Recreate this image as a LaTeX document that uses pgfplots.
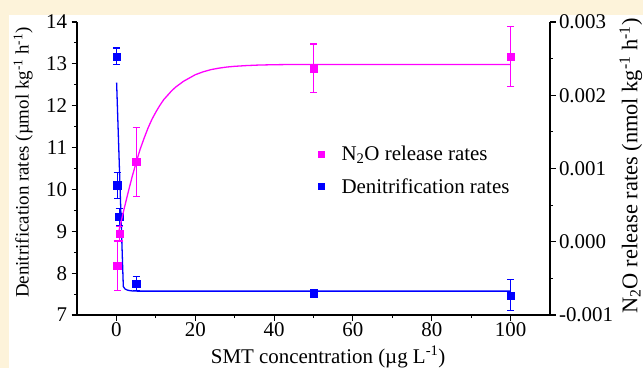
\documentclass[border=0pt]{standalone}
\usepackage{pgfplots}
\pgfplotsset{compat=1.18}
\usepackage{pgfplotstable}
\usepackage{fontspec}
\setmainfont{Liberation Serif}
\definecolor{bgyellow}{RGB}{253,243,218}
\definecolor{mymag}{RGB}{255,0,255}
\definecolor{myblue}{RGB}{0,0,255}

\pgfplotstableread{
x y e
0 13.18 0.20
0.2 10.10 0.31
0.7 9.34 0.20
5 7.75 0.17
50 7.52 0.07
100 7.47 0.37
}\denit

\pgfplotstableread{
x y e
0.2 -0.00033 0.00034
0.8 0.00011 0.00010
5 0.00109 0.00047
50 0.00237 0.00033
100 0.00253 0.00041
}\nitro

\pgfplotstableread{
x y
0.05 12.55
1.75 7.68
2.2 7.62
2.8 7.595
3.5 7.58
4.5 7.572
6 7.57
100 7.57
}\denitfit

\pgfplotstableread{
x y
0.5 0.00012
1 0.00023
2 0.00046
3 0.00068
4 0.00089
5 0.00108
6 0.00126
7 0.00141
8 0.00155
9 0.00167
10 0.00177
11 0.00186
12 0.00194
13 0.00200
14 0.00206
15 0.00211
16 0.00215
17 0.00219
18 0.00222
19 0.00225
20 0.00228
22 0.00232
24 0.00235
26 0.00237
28 0.002385
30 0.002395
33 0.002405
36 0.002412
40 0.002417
45 0.00242
100 0.00242
}\nitrofit

\begin{document}
\begin{tikzpicture}[x=1bp,y=1bp]
\fill[bgyellow] (0,0) rectangle (643,368);
\fill[white] (9,0) rectangle (643,353);
\pgfplotsset{
  common/.style={
    scale only axis, width=473bp, height=293bp,
    at={(77bp,53bp)}, anchor=south west,
    xmin=-10, xmax=110,
    tick align=outside,
    axis line style={line width=1.1pt, black},
    every tick/.style={line width=1.1pt, black},
    major tick length=5.5bp, minor tick length=3bp,
    /pgf/number format/assume math mode=true,
    tick label style={font=\fontsize{21}{24}\selectfont},
    clip=false,
  }
}
\begin{axis}[common,
  axis y line*=left, axis x line*=bottom,
  ymin=7, ymax=14, ytick={7,8,...,14},
  xtick={0,20,...,100}, minor x tick num=1, minor y tick num=1,
  xticklabel style={yshift=1bp},
  yticklabel style={xshift=-1bp},
  xlabel={SMT concentration (µg L\textsuperscript{-1})},
  ylabel={Denitrification rates (µmol kg\textsuperscript{-1} h\textsuperscript{-1})},
  every axis x label/.style={at={(axis description cs:0.531,-0.164)}, anchor=base, font=\fontsize{21}{24}\selectfont},
  every axis y label/.style={at={(axis description cs:-0.114,0.52)}, anchor=center, rotate=90, font=\fontsize{19}{22}\selectfont},
]
\addplot[myblue, line width=1.3pt] table[x=x,y=y]{\denitfit};
\addplot[only marks, mark=square*, myblue, mark size=3.6pt,
  error bars/.cd, y dir=both, y explicit,
  error bar style={line width=1.2pt, myblue},
  error mark options={rotate=90, mark size=3.5pt, line width=1.2pt, myblue}]
  table[x=x,y=y,y error=e]{\denit};
\end{axis}
\begin{axis}[common,
  axis y line*=right, axis x line=none,
  ymin=-0.001, ymax=0.003, ytick={-0.001,0,0.001,0.002,0.003},
  minor y tick num=1, scaled y ticks=false,
  yticklabel style={/pgf/number format/.cd, fixed, fixed zerofill, precision=3},
  ylabel={N\textsubscript{2}O release rates (nmol kg\textsuperscript{-1} h\textsuperscript{-1})},
  every axis y label/.style={at={(axis description cs:1.171,0.5085)}, anchor=center, rotate=90, font=\fontsize{22.5}{25}\selectfont},
  legend style={at={(rel axis cs:0.504,0.59)}, anchor=north west, draw=none, fill=none,
    font=\fontsize{21}{24}\selectfont, row sep=12bp},
  legend cell align=left,
]
\addplot[mymag, line width=1.3pt, forget plot] table[x=x,y=y]{\nitrofit};
\addplot[only marks, mark=square*, mymag, mark size=3.6pt, forget plot,
  error bars/.cd, y dir=both, y explicit,
  error bar style={line width=1.2pt, mymag},
  error mark options={rotate=90, mark size=3.5pt, line width=1.2pt, mymag}]
  table[x=x,y=y,y error=e]{\nitro};
\addlegendimage{only marks, mark=square*, mymag, mark size=3pt}
\addlegendentry{\hspace{15bp}N\textsubscript{2}O release rates}
\addlegendimage{only marks, mark=square*, myblue, mark size=3pt}
\addlegendentry{\hspace{15bp}Denitrification rates}
\end{axis}
\pgfresetboundingbox
\path (0,0) rectangle (643,368);
\end{tikzpicture}
\end{document}
